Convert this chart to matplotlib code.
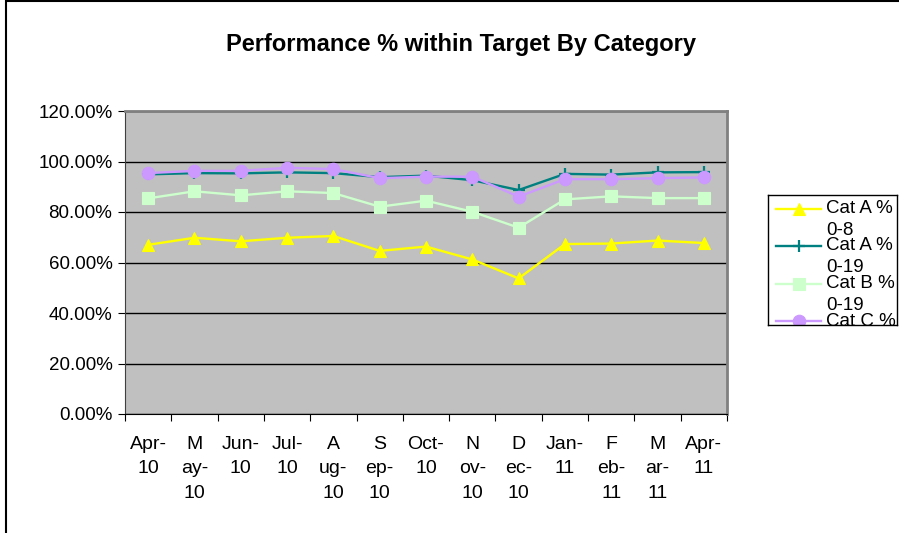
import matplotlib
matplotlib.use("Agg")
import matplotlib.pyplot as plt
from matplotlib.patches import Rectangle
from matplotlib.ticker import PercentFormatter, FixedLocator, NullFormatter

plt.rcParams['font.family'] = ['Liberation Sans', 'DejaVu Sans']

# month labels, wrapped the way the chart shows them
months = ["Apr-\n10", "M\nay-\n10", "Jun-\n10", "Jul-\n10", "A\nug-\n10", "S\nep-\n10",
          "Oct-\n10", "N\nov-\n10", "D\nec-\n10", "Jan-\n11", "F\neb-\n11", "M\nar-\n11", "Apr-\n11"]

cat_a_8 = [67.0, 69.8, 68.4, 69.8, 70.5, 64.6, 66.3, 61.2, 53.7, 67.3, 67.5, 68.7, 67.7]
cat_a_19 = [94.9, 95.4, 95.3, 95.7, 95.4, 93.8, 94.4, 92.6, 88.7, 95.1, 94.8, 95.7, 95.8]
cat_b_19 = [85.4, 88.2, 86.6, 88.2, 87.5, 82.1, 84.5, 80.1, 73.8, 85.0, 86.2, 85.5, 85.5]
cat_c = [95.4, 96.3, 96.3, 97.5, 97.0, 93.4, 94.0, 94.0, 86.1, 93.0, 93.0, 93.4, 93.7]

labels = ["Cat A %\n0-8", "Cat A %\n0-19", "Cat B %\n0-19", "Cat C %\n0-19"]
series = [cat_a_8, cat_a_19, cat_b_19, cat_c]
colors = ["#FFFF00", "#008080", "#CCFFCC", "#CC99FF"]
markers = ["^", "+", "s", "o"]
msizes = [9, 8, 8, 9]

fig = plt.figure(figsize=(8.99, 5.33), dpi=100)
ax = fig.add_axes([125/899, 1 - 414/533, 602/899, 303/533])
ax.set_facecolor("#C0C0C0")

x = list(range(len(months)))
# draw in order so purple sits on top of teal like the original
order = [0, 2, 1, 3]
for i in order:
    ax.plot(x, series[i], color=colors[i], marker=markers[i], markersize=msizes[i],
            lw=1.7, mew=1.6 if markers[i] == "+" else 0.8,
            mec=colors[i], zorder=3 + i)

ax.set_xlim(-0.5, len(months) - 0.5)
ax.set_ylim(0, 120)
ax.yaxis.set_major_locator(FixedLocator([0, 20, 40, 60, 80, 100, 120]))
ax.yaxis.set_major_formatter(PercentFormatter(100, decimals=2))
ax.grid(axis="y", color="black", lw=1)
ax.set_axisbelow(True)

# ticks between categories, labels centred on the categories
ax.xaxis.set_major_locator(FixedLocator([i - 0.5 for i in range(len(months) + 1)]))
ax.xaxis.set_major_formatter(NullFormatter())
ax.xaxis.set_minor_locator(FixedLocator(x))
ax.set_xticks(x, months, minor=True)
ax.tick_params(axis="x", which="minor", length=0, pad=16, labelsize=14)
ax.tick_params(axis="x", which="major", length=5, direction="out", color="black")
ax.tick_params(axis="y", length=5, direction="out", labelsize=13.5, pad=4, color="black")
for lab in ax.get_xticklabels(minor=True):
    lab.set_linespacing(1.55)

for side in ["top", "right"]:
    ax.spines[side].set_color("#808080")
    ax.spines[side].set_linewidth(2)
ax.spines["left"].set_color("#404040")
ax.spines["bottom"].set_color("black")

fig.text(461/899, 1 - 45/533, "Performance % within Target By Category",
         ha="center", va="center", fontsize=17, fontweight="bold")

# legend box, drawn by hand so the wrapped, clipped look can be kept
lg = fig.add_axes([768/899, 1 - 325/533, 129/899, 130/533])
lg.set_xlim(0, 129)
lg.set_ylim(130, 0)
lg.set_xticks([])
lg.set_yticks([])
for s in lg.spines.values():
    s.set_color("black")
    s.set_linewidth(1)
for k, lab in enumerate(labels):
    yy = 13.5 + 37.5 * k
    lg.plot([8, 53], [yy, yy], color=colors[k], lw=1.7, clip_on=True)
    lg.plot([30.5], [yy], color=colors[k], marker=markers[k], markersize=msizes[k],
            mew=1.6 if markers[k] == "+" else 0.8, mec=colors[k], clip_on=True)
    first, second = lab.split("\n")
    lg.text(58, yy, first, fontsize=13.5, va="center", ha="left", clip_on=True)
    lg.text(58, yy + 22, second, fontsize=13.5, va="center", ha="left", clip_on=True)

# chart border
fig.add_artist(Rectangle((6/899, -0.1), 1.2, 1.1 - 1.5/533, transform=fig.transFigure,
                         fill=False, ec="black", lw=1.5))

fig.savefig("out.png", dpi=100)
